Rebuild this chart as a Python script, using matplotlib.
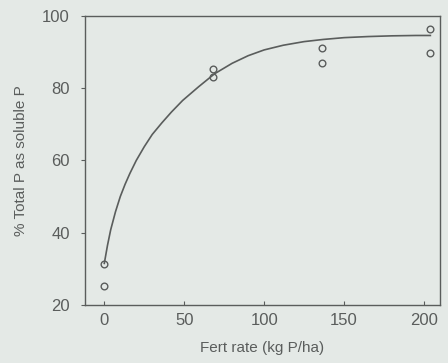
import matplotlib
matplotlib.use("Agg")
import matplotlib.pyplot as plt

plt.rcParams["font.family"] = ["Liberation Sans", "DejaVu Sans"]

# observed data (two replicates per rate)
fert = [0, 0, 68, 68, 136, 136, 204, 204]
soluble = [31.4, 25.3, 85.4, 83.2, 91.2, 87.0, 96.5, 89.8]

# fitted curve
curve_x = [0, 2, 4, 7, 10, 13, 16, 20, 25, 30, 36, 42, 49, 59, 69, 80, 90, 100, 112, 125, 137, 150, 165, 180, 195, 204]
curve_y = [31.5, 36.5, 40.8, 45.8, 50.0, 53.4, 56.4, 60.0, 63.8, 67.2, 70.4, 73.4, 76.6, 80.4, 84.0, 86.9, 89.0, 90.6, 91.9, 92.9, 93.5, 94.0, 94.3, 94.5, 94.6, 94.6]

bg = "#e4e9e6"
ink = "#5a5d5c"

fig = plt.figure(figsize=(4.48, 3.63), dpi=100, facecolor=bg)
ax = fig.add_axes([0.19, 0.16, 0.792, 0.796], facecolor=bg)

ax.plot(curve_x, curve_y, color=ink, lw=1.2)
ax.plot(fert, soluble, "o", mfc="none", mec=ink, ms=4.8, mew=1.0)

ax.set_xlim(-12, 210)
ax.set_ylim(20, 100)
ax.set_xticks([0, 50, 100, 150, 200])
ax.set_yticks([20, 40, 60, 80, 100])
for s in ax.spines.values():
    s.set_color(ink)
    s.set_linewidth(1.0)
ax.tick_params(axis="x", direction="in", length=3, pad=6, colors=ink, labelsize=12)
ax.tick_params(axis="y", direction="out", length=3, pad=8, colors=ink, labelsize=12)
ax.set_xlabel("Fert rate (kg P/ha)", color=ink, fontsize=11, labelpad=9)
ax.set_ylabel("% Total P as soluble P", color=ink, fontsize=11, labelpad=10)

fig.savefig("out.png", dpi=100, facecolor=bg)
